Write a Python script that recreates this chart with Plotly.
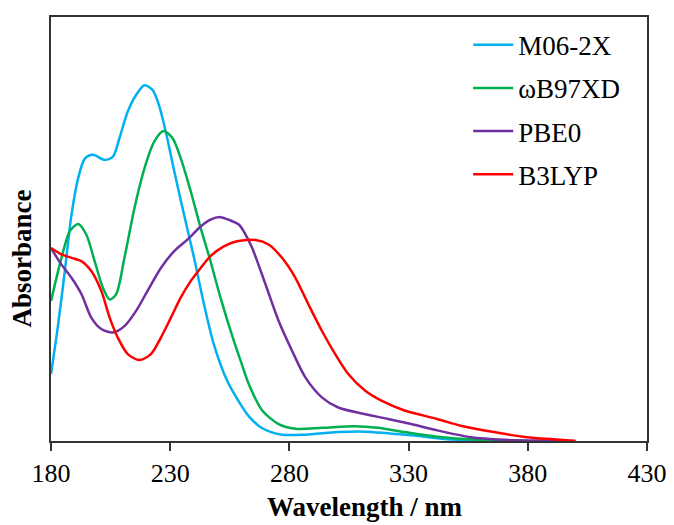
import plotly.graph_objects as go

# ---- data (wavelength in nm, absorbance in arbitrary units) ----
m06_x = [180, 183, 185.8, 188.6, 191.4, 194.2, 197.6, 202.5, 206, 208.7, 212.2, 215.7, 219.2,
         222.6, 225.4, 228.2, 231.7, 235.8, 240, 244.2, 248.3, 253.9, 258.9, 263, 268.6,
         276.9, 286.7, 300.5, 311.7, 321.4, 332.5, 345, 360, 380]
m06_y = [0.158, 0.275, 0.401, 0.534, 0.620, 0.666, 0.675, 0.663, 0.671, 0.714, 0.777, 0.816, 0.839,
         0.828, 0.790, 0.728, 0.636, 0.534, 0.432, 0.322, 0.228, 0.142, 0.092, 0.058, 0.030,
         0.015, 0.015, 0.021, 0.022, 0.018, 0.013, 0.005, 0.001, 0.0]

wb97_x = [180, 184.4, 187.9, 191.4, 194.8, 198.3, 201.8, 204.6, 207.3, 210.8, 215, 219.2, 223.3,
          227.2, 231, 234.4, 238.6, 242.8, 246.9, 251.1, 256.7, 259.5, 263, 268.6, 275.5,
          282.5, 293.6, 307.5, 317.2, 328.3, 341.9, 358.9, 380]
wb97_y = [0.330, 0.432, 0.495, 0.512, 0.487, 0.424, 0.361, 0.334, 0.346, 0.432, 0.549, 0.643, 0.706,
          0.731, 0.714, 0.667, 0.589, 0.502, 0.424, 0.338, 0.236, 0.190, 0.134, 0.072, 0.040,
          0.029, 0.031, 0.035, 0.031, 0.021, 0.010, 0.003, 0.0]

pbe0_x = [180, 184.4, 188.6, 192.8, 196.9, 201.1, 206, 210.8, 215.7, 220.5, 226.1, 231.7, 237.2,
          242.8, 246.9, 251.1, 255.3, 258.9, 261.5, 264.4, 270, 275.5, 281.1, 286.7, 293.6,
          300.5, 310.3, 321.4, 331.1, 342, 356.1, 370, 384, 400]
pbe0_y = [0.455, 0.416, 0.385, 0.346, 0.291, 0.264, 0.256, 0.271, 0.307, 0.354, 0.408, 0.448, 0.475,
          0.506, 0.522, 0.528, 0.520, 0.510, 0.488, 0.455, 0.369, 0.283, 0.213, 0.150, 0.103,
          0.079, 0.065, 0.052, 0.040, 0.025, 0.009, 0.003, 0.001, 0.0]

b3lyp_x = [180, 184.4, 188.6, 192.8, 196.9, 201.1, 204.6, 208, 212.2, 217.1, 221.9, 226.1, 230.3,
           234.4, 238.6, 242.8, 246.9, 252.5, 258, 265.8, 271.4, 276.9, 282.5, 288, 293.6,
           299.2, 304.7, 311.7, 318.6, 328.3, 341.9, 351.9, 365.8, 379.7, 390.8, 400]
b3lyp_y = [0.455, 0.440, 0.432, 0.424, 0.401, 0.354, 0.291, 0.244, 0.205, 0.191, 0.205, 0.244, 0.291,
           0.338, 0.377, 0.408, 0.436, 0.459, 0.471, 0.474, 0.463, 0.432, 0.385, 0.322, 0.260,
           0.205, 0.158, 0.119, 0.095, 0.072, 0.052, 0.036, 0.021, 0.009, 0.004, 0.0]

series_names = ["M06-2X", "\u03c9B97XD", "PBE0", "B3LYP"]
series_colors = ["#00B0F0", "#00B050", "#7030A0", "#FF0000"]
x_ticks = [180, 230, 280, 330, 380, 430]

FONT = "Liberation Serif, Times New Roman, serif"

fig = go.Figure()
for name, xs, ys, col in zip(series_names,
                             [m06_x, wb97_x, pbe0_x, b3lyp_x],
                             [m06_y, wb97_y, pbe0_y, b3lyp_y],
                             series_colors):
    fig.add_trace(go.Scatter(x=xs, y=ys, mode="lines", name=name, legendgroup=name,
                             line=dict(color=col, width=2.5, shape="spline", smoothing=0.8)))

# The page body has an 8px margin, so the figure is sized/margined to compensate.
fig.update_layout(
    width=666, height=517,
    margin=dict(l=43, r=24, t=7, b=84),
    paper_bgcolor="white", plot_bgcolor="white",
    font=dict(family=FONT, color="black", size=26),
    showlegend=True,
    legend=dict(x=0.70, y=0.991, xanchor="left", yanchor="top",
                font=dict(family=FONT, size=27, color="black"),
                bgcolor="rgba(0,0,0,0)", tracegroupgap=5, itemwidth=40),
    xaxis=dict(range=[180, 430], tickvals=x_ticks, ticktext=[str(t) for t in x_ticks],
               ticks="outside", ticklen=8, tickwidth=2, tickcolor="#333",
               showline=True, linecolor="#333", linewidth=2, mirror=True,
               showgrid=False, zeroline=False,
               tickfont=dict(family=FONT, size=26, color="black")),
    yaxis=dict(range=[0, 1], showticklabels=False, ticks="",
               showline=True, linecolor="#333", linewidth=2, mirror=True,
               showgrid=False, zeroline=False),
    annotations=[
        dict(text="<b>Wavelength / nm</b>", xref="paper", yref="paper",
             x=0.527, y=-0.156, xanchor="center", yanchor="middle", showarrow=False,
             font=dict(family=FONT, size=27, color="black")),
        dict(text="<b>Absorbance</b>", xref="paper", yref="paper",
             x=-0.049, y=0.430, xanchor="center", yanchor="middle", showarrow=False,
             textangle=-90, font=dict(family=FONT, size=27, color="black")),
    ],
)

fig.write_html("out.html")
